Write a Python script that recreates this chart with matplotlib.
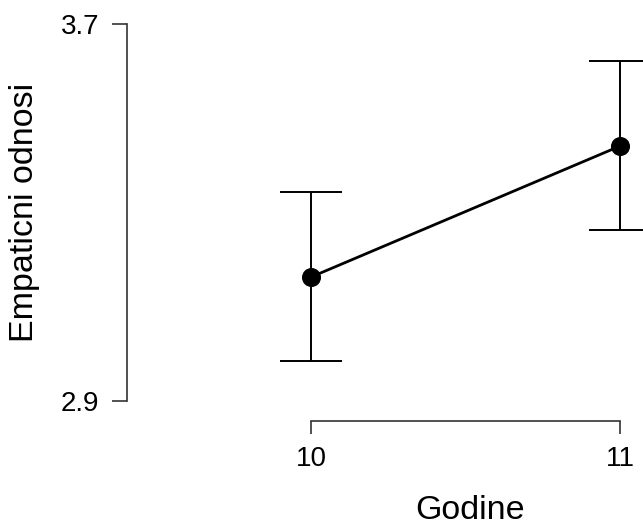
import matplotlib
matplotlib.use("Agg")
import matplotlib.pyplot as plt

years = [10, 11]
means = [3.163, 3.441]
lower = [2.985, 3.263]
upper = [3.344, 3.622]
yticks = [2.9, 3.7]
ytick_labels = ["2.9", "3.7"]
xtick_labels = ["10", "11"]

plt.rcParams['font.family'] = ['Liberation Sans', 'DejaVu Sans']

fig = plt.figure(figsize=(6.43, 5.25), dpi=100)
ax = fig.add_axes([127/643, 124/525, 516/643, 377/525])

yerr = [[m - l for m, l in zip(means, lower)], [u - m for m, u in zip(means, upper)]]
ax.errorbar(years, means, yerr=yerr, fmt='none', ecolor='black', elinewidth=1.4,
            capsize=22, capthick=1.4, clip_on=False, zorder=2)
ax.plot(years, means, color='black', lw=2.0, marker='o', markersize=12.7,
        clip_on=False, zorder=3)

ax.set_xlim(10 - 184/309, 11 + 23/309)
ax.set_ylim(2.9, 3.7)

for s in ['top', 'right']:
    ax.spines[s].set_visible(False)
ax.spines['left'].set_bounds(2.9, 3.7)
ax.spines['bottom'].set_bounds(10, 11)
ax.spines['bottom'].set_position(('outward', 14.2))
for s in ['left', 'bottom']:
    ax.spines[s].set_color('#333333')
    ax.spines[s].set_linewidth(1.2)

ax.set_yticks(yticks)
ax.set_yticklabels(ytick_labels)
ax.set_xticks(years)
ax.set_xticklabels(xtick_labels)
ax.tick_params(axis='y', length=10.8, width=1.2, color='#333333', pad=9, labelsize=20)
ax.tick_params(axis='x', length=9, width=1.2, color='#333333', pad=9.5, labelsize=20)

ax.set_ylabel('Empaticni odnosi', fontsize=24.5, va='center')
ax.yaxis.set_label_coords(-0.198, 0.5)
ax.set_xlabel('Godine', fontsize=24.5, va='center')
ax.xaxis.set_label_coords(0.665, -0.29)

fig.savefig('out.png', dpi=100)
